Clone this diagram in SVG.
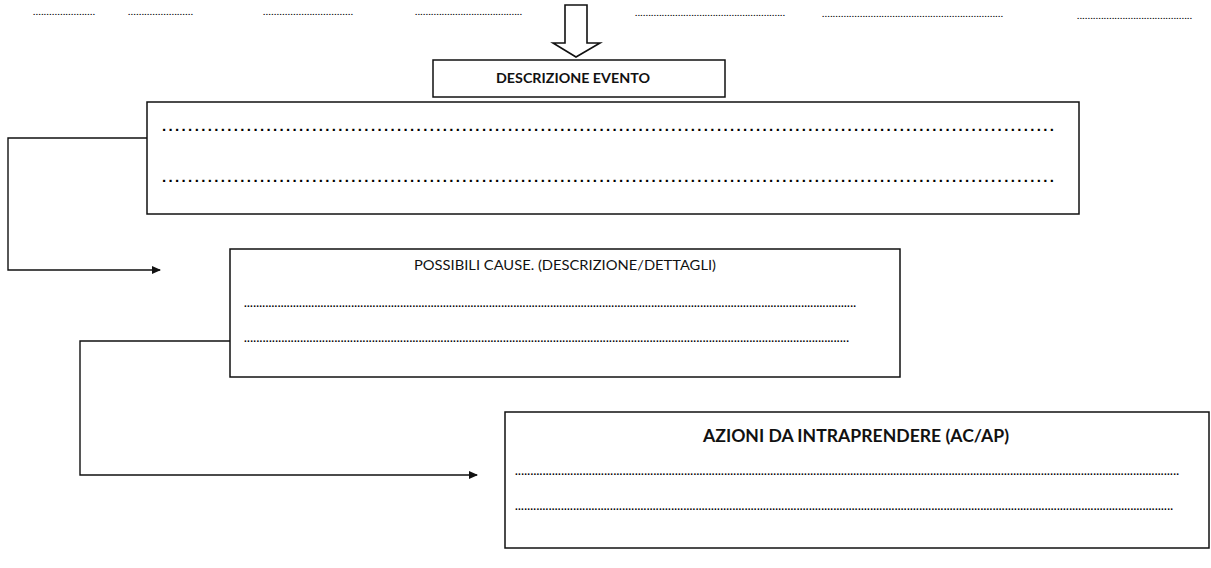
<svg xmlns="http://www.w3.org/2000/svg" width="1211" height="568" viewBox="0 0 1211 568">
<style>
.box{fill:#fff;stroke:#111;stroke-width:1.5}
.dots{font-family:"Liberation Sans",Arial,sans-serif;fill:#000;font-weight:bold}
.d1{font-size:15px}
.d2{font-size:10px}
.d0{font-size:8px}
.lbl{font-family:Lato,"Open Sans",sans-serif;fill:#111}
.conn{fill:none;stroke:#111;stroke-width:1.4}
</style>
<defs>
<marker id="ah" markerWidth="9" markerHeight="8" refX="8" refY="4" orient="auto" markerUnits="userSpaceOnUse">
<path d="M0,0 L9,4 L0,8 Z" fill="#111"/>
</marker>
</defs>
<rect width="1211" height="568" fill="#fff"/>
<g id="top-dots" class="dots d0">
<text x="33" y="15" textLength="62" lengthAdjust="spacing">.......................</text>
<text x="128" y="15" textLength="65" lengthAdjust="spacing">........................</text>
<text x="263" y="15" textLength="90" lengthAdjust="spacing">.................................</text>
<text x="415" y="15" textLength="107" lengthAdjust="spacing">........................................</text>
<text x="635" y="16" textLength="150" lengthAdjust="spacing">........................................................</text>
<text x="822" y="17" textLength="181" lengthAdjust="spacing">...................................................................</text>
<text x="1077" y="19" textLength="115" lengthAdjust="spacing">...........................................</text>
</g>
<g id="start-arrow">
<polygon points="565,5 587,5 587,43 600,43 576,57 553,43 565,43" fill="#fff" stroke="#111" stroke-width="1.6"/>
</g>
<g id="descrizione-evento">
<rect class="box" x="433" y="60" width="292" height="37"/>
<text class="lbl" x="496" y="83" font-size="13" font-weight="bold" textLength="154" lengthAdjust="spacingAndGlyphs">DESCRIZIONE EVENTO</text>
</g>
<g id="evento-dettaglio">
<rect class="box" x="147" y="102" width="932" height="112"/>
<text class="dots d1" x="162" y="131" textLength="892" lengthAdjust="spacing">.........................................................................................................................................</text>
<text class="dots d1" x="162" y="182" textLength="892" lengthAdjust="spacing">.........................................................................................................................................</text>
</g>
<g id="possibili-cause">
<rect class="box" x="230" y="249" width="670" height="128"/>
<text class="lbl" x="414" y="270" font-size="13.5" textLength="302" lengthAdjust="spacingAndGlyphs">POSSIBILI CAUSE. (DESCRIZIONE/DETTAGLI)</text>
<text class="dots d2" x="244" y="307" textLength="612" lengthAdjust="spacing">........................................................................................................................................................................................................</text>
<text class="dots d2" x="244" y="342" textLength="605" lengthAdjust="spacing">..................................................................................................................................................................................................</text>
</g>
<g id="azioni">
<rect class="box" x="505" y="412" width="704" height="136"/>
<text class="lbl" x="703" y="442" font-size="16.5" font-weight="bold" textLength="306" lengthAdjust="spacingAndGlyphs">AZIONI DA INTRAPRENDERE (AC/AP)</text>
<text class="dots d2" x="515" y="475" textLength="664" lengthAdjust="spacing">........................................................................................................................................................................................................................</text>
<text class="dots d2" x="515" y="510" textLength="658" lengthAdjust="spacing">.......................................................................................................................................................................................................................</text>
</g>
<g id="connectors">
<polyline class="conn" points="147,138 8,138 8,270 160,270" marker-end="url(#ah)"/>
<polyline class="conn" points="230,341 80,341 80,475 477,475" marker-end="url(#ah)"/>
</g>
</svg>
